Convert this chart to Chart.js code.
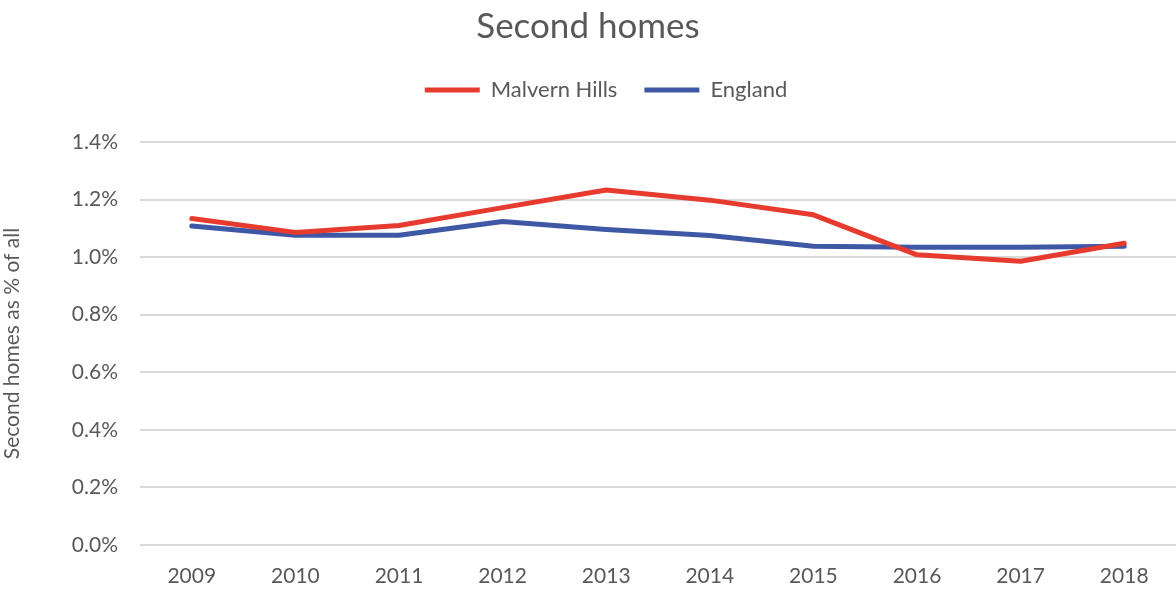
<!DOCTYPE html>
<html>
<head>
	<title>Second homes</title>
	<script src="https://cdn.jsdelivr.net/npm/chart.js@4.4.0/dist/chart.umd.min.js"></script>
	<meta charset="utf-8"/>
	<style>
		html, body { margin: 0; padding: 0; background: #fff; }
		#chart-container { width: 1176px; height: 590px; }
	</style>
</head>
<body>
    <div id="chart-container">
        <canvas id="myChart"></canvas>
    </div>

    <script>
        // data (percent of all homes)
        var years = ['2009', '2010', '2011', '2012', '2013', '2014', '2015', '2016', '2017', '2018'];
        var malvernHills = [1.134, 1.086, 1.110, 1.172, 1.233, 1.198, 1.147, 1.008, 0.986, 1.048];
        var england = [1.108, 1.076, 1.076, 1.124, 1.096, 1.075, 1.038, 1.034, 1.034, 1.038];
        var yTicks = [0, 0.2, 0.4, 0.6, 0.8, 1.0, 1.2, 1.4];

        var textColor = '#595959';
        var font = 'Lato, "Open Sans", sans-serif';

        // push the plot area down below the legend, nudge legend right
        var legendGap = {
            id: 'legendGap',
            beforeInit: function (chart) {
                var lg = chart.legend;
                var fit = lg.fit;
                lg.fit = function () {
                    fit.bind(lg)();
                    this.height += 31;
                };
                var draw = lg.draw;
                lg.draw = function () {
                    var ctx = chart.ctx;
                    ctx.save();
                    ctx.translate(18, 0);
                    draw.bind(lg)();
                    ctx.restore();
                };
            }
        };

        var chartdata = {
            labels: years,
            datasets: [
                {
                    label: 'Malvern Hills',
                    data: malvernHills,
                    borderColor: '#E63B2E',
                    backgroundColor: '#E63B2E',
                    borderWidth: 5,
                    borderCapStyle: 'round',
                    borderJoinStyle: 'round',
                    pointRadius: 0,
                    tension: 0
                },
                {
                    label: 'England',
                    data: england,
                    borderColor: '#3F58A6',
                    backgroundColor: '#3F58A6',
                    borderWidth: 5,
                    borderCapStyle: 'round',
                    borderJoinStyle: 'round',
                    pointRadius: 0,
                    tension: 0
                }
            ]
        };

        new Chart(document.getElementById('myChart'), {
            type: 'line',
            data: chartdata,
            plugins: [legendGap],
            options: {
                responsive: true,
                maintainAspectRatio: false,
                animation: false,
                layout: { padding: 0 },
                plugins: {
                    title: {
                        display: true,
                        text: 'Second homes',
                        color: textColor,
                        font: { family: font, size: 35, weight: 'normal' },
                        padding: { top: 6, bottom: 4 }
                    },
                    legend: {
                        labels: {
                            usePointStyle: true,
                            pointStyle: 'line',
                            pointStyleWidth: 55,
                            color: textColor,
                            font: { family: font, size: 22 },
                            padding: 27
                        }
                    },
                    tooltip: { enabled: false }
                },
                scales: {
                    x: {
                        offset: true,
                        grid: { display: false, drawTicks: false },
                        border: { display: false },
                        ticks: {
                            color: textColor,
                            font: { family: font, size: 21 },
                            padding: 19,
                            maxRotation: 0
                        },
                        afterFit: function (scale) { scale.height = 45; }
                    },
                    y: {
                        min: 0,
                        max: 1.4,
                        afterBuildTicks: function (scale) {
                            scale.ticks = yTicks.map(function (v) { return { value: v }; });
                        },
                        grid: { color: '#D9D9D9', lineWidth: 2, drawTicks: false },
                        border: { display: false },
                        ticks: {
                            color: textColor,
                            font: { family: font, size: 21 },
                            padding: 22,
                            callback: function (v) { return v.toFixed(1) + '%'; }
                        },
                        title: {
                            display: true,
                            text: 'Second homes as % of all',
                            color: textColor,
                            font: { family: font, size: 21 },
                            padding: { top: 0, bottom: 0 }
                        },
                        afterFit: function (scale) { scale.width = 140; }
                    }
                }
            }
        });
    </script>

</body>
</html>
